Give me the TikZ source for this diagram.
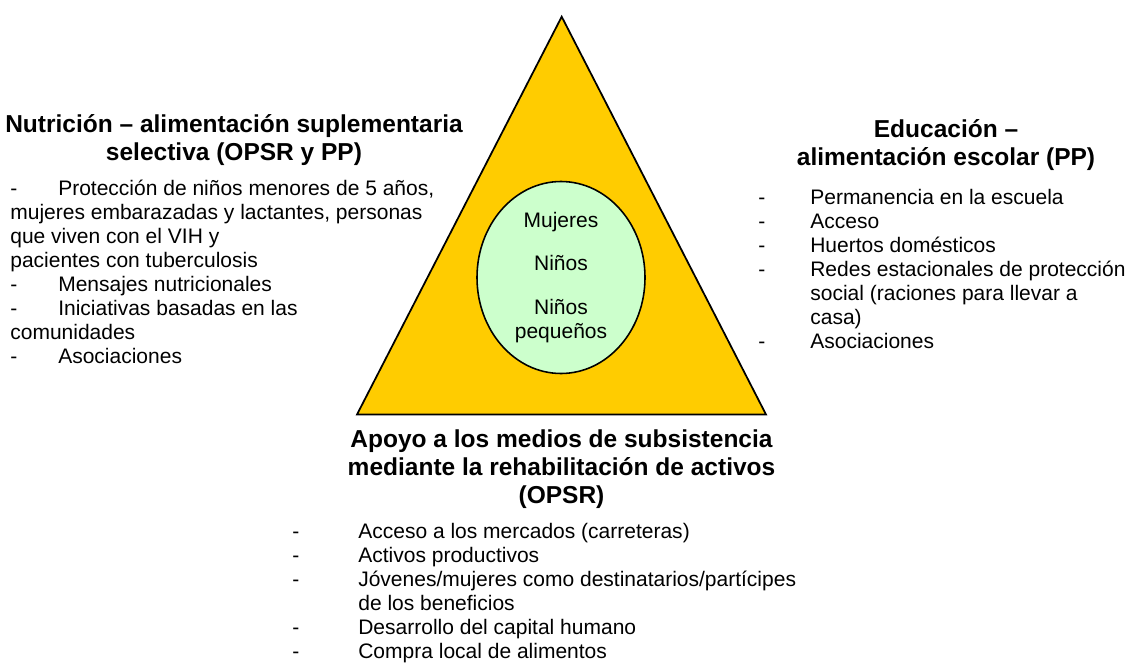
\documentclass[tikz,border=0pt]{standalone}
\usepackage{fontspec}
\setmainfont{Liberation Sans}
\usepackage{tikz}
\usetikzlibrary{shapes.geometric}

\definecolor{oro}{HTML}{FFCC00}
\definecolor{menta}{HTML}{CCFFCC}
\newcommand{\guion}[1]{\makebox[#1][l]{-}}

\begin{document}
\begin{tikzpicture}[
                    x=0.5714pt,
                    y=-0.5714pt,
                    titulo/.style={
                        align=center,
                        inner sep=0pt,
                        font=\fontsize{14}{16}\selectfont\bfseries
                    },
                    lista/.style={
                        align=left,
                        anchor=west,
                        inner sep=0pt,
                        font=\fontsize{12}{13.7}\selectfont
                    }
                ]
                    \useasboundingbox (0,0) rectangle (1132,662);

                    % Triangle and the groups in the middle
                    \draw[fill=oro, line width=1pt] (561.7,16.7) -- (357,414.5) -- (766,414.5) -- cycle;
                    \node[ellipse, draw, fill=menta, line width=0.9pt, inner sep=0pt,
                          minimum width=96pt, minimum height=109.7pt,
                          align=center, font=\fontsize{12}{13.7}\selectfont]
                          (grupos) at (561,277.5) {Mujeres\\[11.4pt]Niños\\[11.4pt]Niños\\pequeños};

                    % Titles
                    \node[titulo] (nutricion) at (234,140) {Nutrición – alimentación suplementaria\\selectiva (OPSR y PP)};
                    \node[titulo] (educacion) at (946,145) {Educación –\\alimentación escolar (PP)};
                    \node[titulo] (apoyo) at (561.5,469) {Apoyo a los medios de subsistencia\\mediante la rehabilitación de activos\\(OPSR)};

                    % Lists
                    \node[lista] (lnutricion) at (10,272) {\guion{27.4pt}Protección de niños menores de 5 años,\\
                        mujeres embarazadas y lactantes, personas\\
                        que viven con el VIH y\\
                        pacientes con tuberculosis\\
                        \guion{27.4pt}Mensajes nutricionales\\
                        \guion{27.4pt}Iniciativas basadas en las\\
                        comunidades\\
                        \guion{27.4pt}Asociaciones};
                    \node[lista] (leducacion) at (758,269) {\guion{29.7pt}Permanencia en la escuela\\
                        \guion{29.7pt}Acceso\\
                        \guion{29.7pt}Huertos domésticos\\
                        \guion{29.7pt}Redes estacionales de protección\\
                        \hspace*{29.7pt}social (raciones para llevar a\\
                        \hspace*{29.7pt}casa)\\
                        \guion{29.7pt}Asociaciones};
                    \node[lista] (lapoyo) at (292,593) {\guion{37.7pt}Acceso a los mercados (carreteras)\\
                        \guion{37.7pt}Activos productivos\\
                        \guion{37.7pt}Jóvenes/mujeres como destinatarios/partícipes\\
                        \hspace*{37.7pt}de los beneficios\\
                        \guion{37.7pt}Desarrollo del capital humano\\
                        \guion{37.7pt}Compra local de alimentos};
                \end{tikzpicture}
\end{document}
